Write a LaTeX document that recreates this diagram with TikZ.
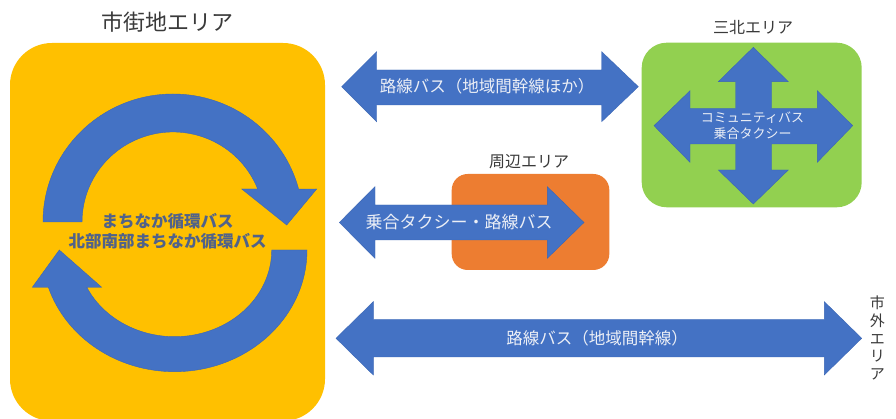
\documentclass[tikz,border=0pt]{standalone}
\usepackage{fontspec}
\setmainfont{Noto Sans CJK JP}
\definecolor{blu}{HTML}{4472C4}
\definecolor{blued}{HTML}{3A66B5}
\definecolor{yel}{HTML}{FFC000}
\definecolor{grn}{HTML}{92D050}
\definecolor{org}{HTML}{ED7D31}
\definecolor{ttl}{HTML}{3A3A3A}
\definecolor{ctr}{RGB}{80,98,138}
\definecolor{wtx}{RGB}{236,239,246}
\tikzset{
  area/.style={inner sep=0pt},
  blockarr/.style={fill=blu,draw=blued,line width=0.4pt,line join=miter},
  ttltext/.style={text=ttl,inner sep=0pt},
  arrtext/.style={text=wtx,inner sep=0pt,font=\fontsize{16.5}{20}\selectfont},
}
\begin{document}
\begin{tikzpicture}[x=1pt,y=1pt]
\useasboundingbox (0,0) rectangle (896,419);
\fill[white] (0,0) rectangle (896,419);

% ---- city area (yellow) ----
\fill[yel,rounded corners=42pt] (10,-2) rectangle (325,376);
\node[ttltext,font=\fontsize{22}{24}\selectfont] (cityT) at (167,397) {市街地エリア};

% upper circular arrow
\path[blockarr] (43,197) arc[start angle=180,end angle=14.9,x radius=130,y radius=128]
  -- (316.7,230) -- (286.7,194) -- (241.7,230) -- (257.7,230)
  arc[start angle=21.5,end angle=180,x radius=91,y radius=90] -- cycle;
% lower circular arrow
\path[blockarr] (307,169) arc[start angle=0,end angle=-162.15,x radius=132.5,y radius=121.7]
  -- (32.3,131.7) -- (59.3,169) -- (101.7,131.7) -- (86.8,131.7)
  arc[start angle=-154.5,end angle=0,x radius=97.2,y radius=86.7] -- cycle;
\node[text=ctr,inner sep=0pt,align=center,font=\fontsize{16.5}{20}\selectfont\bfseries] (loop) at (167.5,187.5)
  {まちなか循環バス\\北部南部まちなか循環バス};

% ---- sanboku area (green) ----
\fill[grn,rounded corners=25pt] (641.7,211.7) rectangle (861.7,376.3);
\node[ttltext,font=\fontsize{16}{18}\selectfont] (sanT) at (753,391) {三北エリア};
\path[blockarr] (753.3,371.7) -- (788.3,337.3) -- (771.5,337.3) -- (771.5,310.7)
  -- (817.3,310.7) -- (817.3,328.3) -- (852.7,293.3) -- (817.3,256.7) -- (817.3,275)
  -- (771.5,275) -- (771.5,249) -- (788.3,249) -- (753.3,215) -- (718.3,249)
  -- (735.5,249) -- (735.5,275) -- (690,275) -- (690,256.7) -- (654,293.3)
  -- (690,328.3) -- (690,310.7) -- (735.5,310.7) -- (735.5,337.3) -- (718.3,337.3) -- cycle;
\node[text=wtx,inner sep=0pt,align=center,font=\fontsize{13}{16}\selectfont] (comm) at (752.5,293.5)
  {コミュニティバス\\乗合タクシー};

% ---- surrounding area (orange) ----
\fill[org,rounded corners=16pt] (451.7,149) rectangle (609.3,245);
\node[ttltext,font=\fontsize{16}{18}\selectfont] (shuT) at (529,257.3) {周辺エリア};

% ---- arrow 1 ----
\path[blockarr] (341.7,332.3) -- (376.7,367.3) -- (376.7,349) -- (601.7,349)
  -- (601.7,367.3) -- (638.3,332.3) -- (601.7,297.3) -- (601.7,314)
  -- (376.7,314) -- (376.7,297.3) -- cycle;
\node[arrtext] (a1) at (487,332.3) {路線バス（地域間幹線ほか）};

% ---- arrow 2 ----
\path[blockarr] (339.3,196.5) -- (375,232.3) -- (375,214) -- (547.3,214)
  -- (547.3,232.3) -- (584,196.5) -- (547.3,160.7) -- (547.3,179)
  -- (375,179) -- (375,160.7) -- cycle;
\node[arrtext,font=\fontsize{17}{20}\selectfont] (a2) at (459,196.5) {乗合タクシー・路線バス};

% ---- arrow 3 ----
\path[blockarr] (336,80.7) -- (373.3,117.3) -- (373.3,99.7) -- (824.3,99.7)
  -- (824.3,117.3) -- (861.7,80.7) -- (824.3,44) -- (824.3,62)
  -- (373.3,62) -- (373.3,44) -- cycle;
\node[arrtext] (a3) at (597,80.7) {路線バス（地域間幹線）};

% ---- outside area (vertical) ----
\node[ttltext,align=center,font=\fontsize{15}{17.6}\selectfont] (outT) at (877.3,81)
  {市\\外\\エ\\リ\\ア};
\end{tikzpicture}
\end{document}
